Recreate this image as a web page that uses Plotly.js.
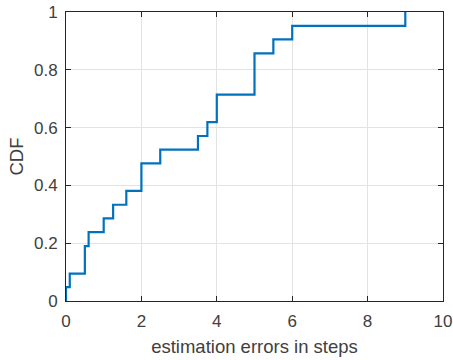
<!DOCTYPE html>
<html>
<head>
<meta charset="utf-8">
<script src="https://cdn.plot.ly/plotly-3.0.1.min.js"></script>
<style>html,body{margin:0;padding:0;background:#fff;}#chart{width:453px;height:360px;}</style>
</head>
<body>
<div id="chart"></div>
<script>
// step locations (estimation error) and CDF level reached at each
const errors = [0, 0, 0.1, 0.5, 0.6, 1, 1.25, 1.6, 2, 2.5, 3.5, 3.75, 4, 5, 5.5, 6, 9];
const cdf = [0, 0.048, 0.095, 0.19, 0.238, 0.286, 0.333, 0.381, 0.476, 0.524, 0.571, 0.619, 0.714, 0.857, 0.905, 0.952, 1];
const xTicks = [0, 2, 4, 6, 8, 10];
const yTicks = [0, 0.2, 0.4, 0.6, 0.8, 1];

const axisColor = '#262626';
const font = {family: 'Liberation Sans, Arial, sans-serif', size: 17, color: '#404040'};
const titleFont = {family: 'Liberation Sans, Arial, sans-serif', size: 18.5, color: '#404040'};

Plotly.newPlot('chart', [{
  x: errors, y: cdf, type: 'scatter', mode: 'lines',
  line: {shape: 'hv', color: '#0072BD', width: 2.2},
  hoverinfo: 'skip'
}], {
  width: 453, height: 360,
  margin: {l: 66, r: 10, t: 12, b: 59},
  paper_bgcolor: '#fff', plot_bgcolor: '#fff',
  showlegend: false,
  font: font,
  xaxis: {
    range: [0, 10], tickvals: xTicks, ticktext: xTicks.map(String),
    ticks: 'inside', ticklen: 5, tickcolor: axisColor, tickwidth: 1,
    showline: true, linecolor: axisColor, linewidth: 1, mirror: 'allticks',
    showgrid: true, gridcolor: '#e3e3e3', gridwidth: 1, zeroline: false,
    tickfont: font, ticklabelstandoff: 5,
    title: {text: 'estimation errors in steps', font: titleFont, standoff: 9}
  },
  yaxis: {
    range: [0, 1], tickvals: yTicks, ticktext: yTicks.map(String),
    ticks: 'inside', ticklen: 5, tickcolor: axisColor, tickwidth: 1,
    showline: true, linecolor: axisColor, linewidth: 1, mirror: 'allticks',
    showgrid: true, gridcolor: '#e3e3e3', gridwidth: 1, zeroline: false,
    tickfont: font, ticklabelstandoff: 4,
    title: {text: 'CDF', font: titleFont, standoff: 5}
  }
}, {staticPlot: true});
</script>
</body>
</html>
